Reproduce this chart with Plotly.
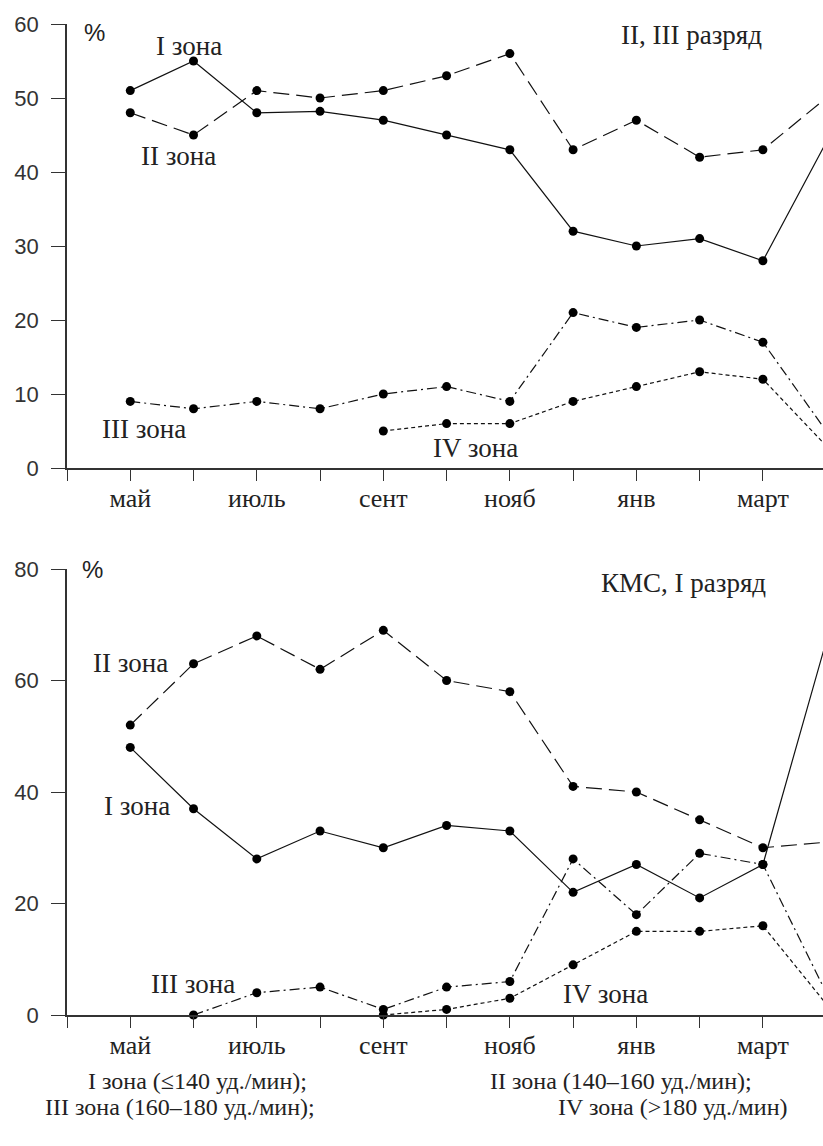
import plotly.graph_objects as go

months = ["май", "июнь", "июль", "авг", "сент", "окт", "нояб", "дек", "янв", "фев", "март", "апр"]
month_pos = list(range(1, len(months) + 1))
tick_pos = list(range(0, len(months) + 1))
tick_text = [""] + [m if i % 2 == 0 else "" for i, m in enumerate(months)]

# II, III разряд
top_z1 = [51, 55, 48, 48.2, 47, 45, 43, 32, 30, 31, 28, 44]
top_z2 = [48, 45, 51, 50, 51, 53, 56, 43, 47, 42, 43, 50]
top_z3 = [9, 8, 9, 8, 10, 11, 9, 21, 19, 20, 17, 5]
top_z4 = [None, None, None, None, 5, 6, 6, 9, 11, 13, 12, 3]

# КМС, I разряд
bot_z1 = [48, 37, 28, 33, 30, 34, 33, 22, 27, 21, 27, 67]
bot_z2 = [52, 63, 68, 62, 69, 60, 58, 41, 40, 35, 30, 31]
bot_z3 = [None, 0, 4, 5, 1, 5, 6, 28, 18, 29, 27, 4]
bot_z4 = [None, None, None, None, 0, 1, 3, 9, 15, 15, 16, 2]

styles = {
    "I": "solid",
    "II": "16px,7px",
    "III": "10px,4px,2px,4px",
    "IV": "4px,3px",
}

W, H = 823, 1146
ML = 67
fig = go.Figure()

def add(vals, dash, xa, ya):
    fig.add_trace(go.Scatter(
        x=month_pos, y=vals, mode="lines+markers",
        line=dict(color="#111", width=1.2, dash=dash),
        marker=dict(color="#000", size=9),
        connectgaps=False, cliponaxis=False, showlegend=False,
        xaxis=xa, yaxis=ya, hoverinfo="skip"))

add(top_z1, styles["I"], "x", "y")
add(top_z2, styles["II"], "x", "y")
add(top_z3, styles["III"], "x", "y")
add(top_z4, styles["IV"], "x", "y")
add(bot_z1, styles["I"], "x2", "y2")
add(bot_z2, styles["II"], "x2", "y2")
add(bot_z3, styles["III"], "x2", "y2")
add(bot_z4, styles["IV"], "x2", "y2")

serif = "Liberation Serif, Times New Roman, serif"
sans = "Liberation Sans, Arial, sans-serif"

xcommon = dict(
    range=[0, 11.95], tickmode="array", tickvals=tick_pos, ticktext=tick_text,
    showline=True, linecolor="#333", linewidth=1.5, ticks="outside", ticklen=11,
    tickwidth=1.3, tickcolor="#333", showgrid=False, zeroline=False,
    tickfont=dict(family=serif, size=26, color="#222"), ticklabelstandoff=-5,
    automargin=False,
)
ycommon = dict(
    showline=True, linecolor="#333", linewidth=1.5, ticks="outside", ticklen=14,
    tickwidth=1.3, tickcolor="#333", showgrid=False, zeroline=False,
    tickfont=dict(family=sans, size=22, color="#333"), ticklabelstandoff=8,
    automargin=False,
)

def pyf(py):
    return 1 - py / H

def pxf(px):
    return (px - ML) / (W - ML)

fig.update_layout(
    width=W, height=H,
    margin=dict(l=ML, r=0, t=0, b=0, autoexpand=False),
    paper_bgcolor="white", plot_bgcolor="white",
    xaxis=dict(domain=[0, 1], anchor="y", **xcommon),
    yaxis=dict(domain=[pyf(468), pyf(24)], anchor="x", range=[0, 60],
               tickvals=[0, 10, 20, 30, 40, 50, 60], **ycommon),
    xaxis2=dict(domain=[0, 1], anchor="y2", **xcommon),
    yaxis2=dict(domain=[pyf(1015), pyf(569)], anchor="x2", range=[0, 80],
                tickvals=[0, 20, 40, 60, 80], **ycommon),
)

def ann(text, x, y, xr, yr, font, size):
    fig.add_annotation(text=text, x=x, y=y, xref=xr, yref=yr, showarrow=False,
                       xanchor="center", yanchor="middle",
                       font=dict(family=font, size=size, color="#222"))

# top panel labels
ann("%", 0.44, 58.9, "x", "y", sans, 24)
ann("I зона", 1.93, 57.0, "x", "y", serif, 27)
ann("II зона", 1.77, 42.2, "x", "y", serif, 27)
ann("II, III разряд", 9.87, 58.5, "x", "y", serif, 27)
ann("III зона", 1.22, 5.3, "x", "y", serif, 27)
ann("IV зона", 6.45, 2.7, "x", "y", serif, 27)

# bottom panel labels
ann("%", 0.41, 79.9, "x2", "y2", sans, 24)
ann("КМС, I разряд", 9.75, 77.4, "x2", "y2", serif, 27)
ann("II зона", 1.01, 63.2, "x2", "y2", serif, 27)
ann("I зона", 1.11, 37.5, "x2", "y2", serif, 27)
ann("III зона", 1.99, 5.6, "x2", "y2", serif, 27)
ann("IV зона", 8.51, 3.8, "x2", "y2", serif, 27)

# footnote
foot = [
    ("I зона (≤140 уд./мин);", 197, 1081),
    ("II зона (140–160 уд./мин);", 621, 1081),
    ("III зона (160–180 уд./мин);", 180, 1107),
    ("IV зона (>180 уд./мин)", 673, 1107),
]
for txt, px, py in foot:
    fig.add_annotation(text=txt, x=pxf(px), y=pyf(py), xref="paper", yref="paper",
                       showarrow=False, xanchor="center", yanchor="middle",
                       font=dict(family=serif, size=24, color="#222"))

fig.write_html("out.html")
